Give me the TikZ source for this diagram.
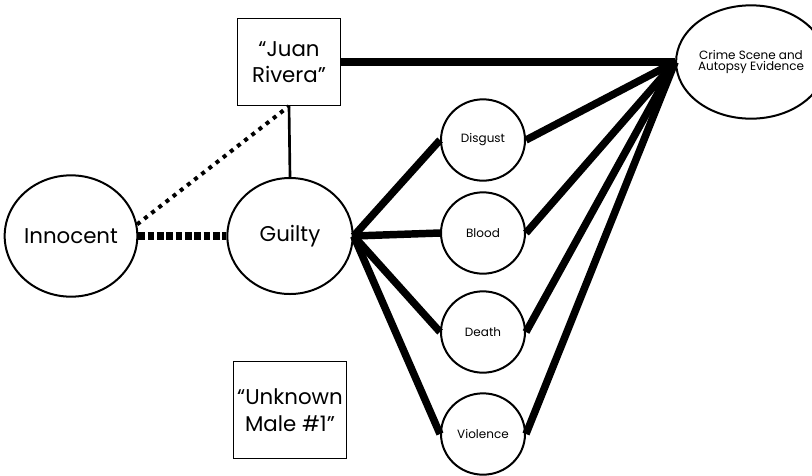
\documentclass[tikz,border=0pt]{standalone}
\usepackage{fontspec}
\setmainfont{Poppins}
\usepackage{tikz}
\usetikzlibrary{positioning, shapes.geometric, calc}
\tikzset{
    blob/.style={ellipse, draw, line width=1.5pt, inner sep=0pt, align=center},
    namebox/.style={draw, line width=1.2pt, inner sep=0pt, align=center, font=\fontsize{16}{20}\selectfont},
    heavy/.style={line width=5.6pt},
}

\begin{document}
\begin{tikzpicture}[x=0.75pt, y=-0.75pt]
    \tikzset{
      big/.style={blob, minimum width=96pt, minimum height=91pt, font=\fontsize{16}{20}\selectfont},
      feel/.style={blob, minimum width=63pt, minimum height=61pt, font=\fontsize{9}{11}\selectfont},
    }
    \useasboundingbox (0,0) rectangle (812,475);

    \node[big] (innocent) at (71,236) {Innocent};
    \node[big, minimum width=94pt, minimum height=87pt] (guilty) at (290,236) {Guilty};
    \node[namebox, minimum width=77pt, minimum height=65pt] (juan) at (289,62) {“Juan\\Rivera”};
    \node[namebox, minimum width=85pt, minimum height=73pt] (unknown) at (290,410) {“Unknown\\Male \#1”};
    \node[blob, minimum width=90pt, minimum height=85pt, font=\fontsize{9}{8.5}\selectfont] (crime) at (751,62) {Crime Scene and\\Autopsy Evidence};

    \node[feel] (disgust) at (483,140) {Disgust};
    \node[feel] (blood) at (483,233) {Blood};
    \node[feel] (death) at (483,332) {Death};
    \node[feel] (violence) at (483,434) {Violence};

    \coordinate (hub) at (crime.west);

    % links to the suspects
    \draw[line width=2pt] (juan.south) -- (guilty.north);
    \draw[line width=3pt, dash pattern=on 3pt off 3.8pt] (innocent.10) -- (juan.south);
    \draw[heavy, dash pattern=on 5pt off 2pt] (innocent.east) -- (guilty.west);
    \draw[heavy] (juan.east) -- (hub);

    % guilty to the feelings, feelings to the evidence
    \foreach \f in {disgust, blood, death, violence} {
      \draw[heavy] (guilty.east) -- (\f.west);
      \draw[heavy] (\f.east) -- (hub);
    }
\end{tikzpicture}
\end{document}
